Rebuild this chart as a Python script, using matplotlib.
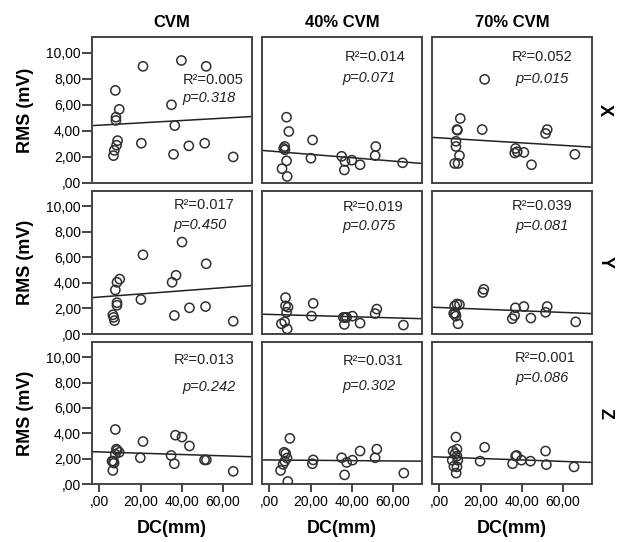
import matplotlib
matplotlib.use('Agg')
import matplotlib.pyplot as plt

# ========== DATA ==========
COLUMNS = ["CVM", "40% CVM", "70% CVM"]
ROWS = ["X", "Y", "Z"]

# X direction
dc_cvm_x = [7.8, 21.2, 39.8, 51.8, 35.0, 9.7, 8.1, 8.1, 36.6, 8.9, 8.4, 7.3, 6.9, 20.4, 36.0, 43.4, 51.1, 64.9]
rms_cvm_x = [7.1, 8.95, 9.4, 8.95, 6.0, 5.65, 5.05, 4.8, 4.4, 3.25, 2.9, 2.5, 2.1, 3.05, 2.2, 2.85, 3.05, 2.0]
dc_40_x = [8.4, 9.5, 7.5, 7.6, 7.0, 8.4, 6.2, 8.7, 21.0, 20.2, 35.1, 36.7, 36.4, 40.0, 44.0, 51.6, 51.3, 64.6]
rms_40_x = [5.05, 3.95, 2.8, 2.55, 2.65, 1.7, 1.1, 0.5, 3.3, 1.9, 2.05, 1.65, 1.0, 1.75, 1.4, 2.8, 2.1, 1.55]
dc_70_x = [22.0, 10.2, 8.6, 8.8, 20.8, 8.1, 8.1, 9.8, 7.5, 9.1, 52.3, 51.5, 37.0, 37.8, 36.6, 41.0, 44.7, 65.7]
rms_70_x = [7.95, 4.95, 4.1, 4.05, 4.1, 3.2, 2.8, 2.1, 1.5, 1.5, 4.1, 3.8, 2.65, 2.4, 2.3, 2.35, 1.4, 2.2]

# Y direction
dc_cvm_y = [21.2, 40.1, 51.8, 37.2, 35.3, 9.9, 8.6, 7.8, 8.6, 8.6, 20.2, 6.6, 7.0, 7.4, 36.4, 43.7, 51.5, 64.9]
rms_cvm_y = [6.2, 7.2, 5.5, 4.6, 4.05, 4.3, 4.05, 3.45, 2.45, 2.25, 2.7, 1.5, 1.3, 1.05, 1.45, 2.05, 2.15, 1.0]
dc_40_y = [7.9, 9.1, 7.9, 21.3, 20.5, 52.1, 51.3, 36.7, 40.3, 8.4, 5.9, 7.5, 8.7, 35.9, 37.5, 36.4, 44.0, 65.0]
rms_40_y = [2.85, 2.1, 2.2, 2.4, 1.4, 1.95, 1.6, 1.3, 1.4, 1.7, 0.8, 0.95, 0.4, 1.3, 1.3, 0.75, 0.85, 0.7]
dc_70_y = [21.6, 21.1, 8.6, 9.8, 7.5, 7.8, 36.9, 41.0, 36.5, 44.4, 52.3, 51.5, 66.1, 7.0, 8.1, 9.1, 35.4]
rms_70_y = [3.5, 3.25, 2.35, 2.3, 2.2, 1.6, 2.05, 2.15, 1.45, 1.25, 2.15, 1.7, 0.95, 1.6, 1.4, 0.8, 1.2]

# Z direction
dc_cvm_z = [7.8, 21.2, 36.9, 40.1, 43.7, 8.3, 8.7, 9.7, 7.8, 6.2, 6.9, 7.2, 6.6, 19.9, 34.8, 36.4, 51.0, 51.9, 64.9]
rms_cvm_z = [4.3, 3.35, 3.85, 3.7, 3.0, 2.75, 2.65, 2.5, 2.35, 1.8, 1.8, 1.65, 1.07, 2.07, 2.25, 1.6, 1.9, 1.9, 1.0]
dc_40_z = [10.0, 7.2, 8.0, 8.6, 7.5, 6.7, 5.5, 9.0, 21.3, 20.9, 35.1, 37.5, 36.5, 40.3, 44.0, 52.1, 51.3, 65.2]
rms_40_z = [3.6, 2.5, 2.4, 2.05, 1.8, 1.55, 1.07, 0.2, 1.9, 1.6, 2.07, 1.7, 0.72, 1.88, 2.6, 2.75, 2.07, 0.86]
dc_70_z = [8.1, 8.6, 6.7, 7.7, 8.6, 6.3, 9.0, 7.1, 8.6, 8.2, 22.0, 19.8, 35.5, 37.0, 37.5, 39.8, 44.2, 51.5, 51.9, 65.3]
rms_70_z = [3.7, 2.75, 2.6, 2.4, 2.2, 1.88, 1.88, 1.4, 1.35, 0.86, 2.9, 1.8, 1.6, 2.2, 2.25, 1.88, 1.8, 2.6, 1.53, 1.35]

# fit line value at left / right edge of the x range, rows X,Y,Z x columns
fit_left = [[4.4, 2.5, 3.5], [2.85, 1.55, 2.1], [2.55, 1.9, 2.15]]
fit_right = [[5.1, 1.5, 2.75], [3.8, 1.2, 1.6], [2.15, 1.8, 1.7]]

r2_values = [["0.005", "0.014", "0.052"], ["0.017", "0.019", "0.039"], ["0.013", "0.031", "0.001"]]
p_values = [["0.318", "0.071", "0.015"], ["0.450", "0.075", "0.081"], ["0.242", "0.302", "0.086"]]

x_ticks = [0, 20, 40, 60]
x_tick_labels = [",00", "20,00", "40,00", "60,00"]
y_ticks = [0, 2, 4, 6, 8, 10]
y_tick_labels = [",00", "2,00", "4,00", "6,00", "8,00", "10,00"]

# ========== LAYOUT ==========
W, H = 619, 542
X_RANGE = (-3.5, 74.0)
Y_RANGE = (0, 11.2)
col_left = [92, 262, 432]
col_width = 160
row_top = [37, 191, 342]
row_bottom = [183, 334, 484]

# text anchors in axes fraction: (x_r2, y_r2, x_p, y_p)
text_pos = [
    [(0.565, 0.705, 0.565, 0.58), (0.52, 0.865, 0.505, 0.72), (0.50, 0.865, 0.52, 0.71)],
    [(0.51, 0.90, 0.51, 0.765), (0.505, 0.89, 0.50, 0.755), (0.50, 0.895, 0.52, 0.755)],
    [(0.51, 0.87, 0.565, 0.68), (0.505, 0.865, 0.50, 0.69), (0.52, 0.89, 0.52, 0.745)],
]

plt.rcParams['font.family'] = ['Liberation Sans', 'DejaVu Sans']

grid_dc = [[dc_cvm_x, dc_40_x, dc_70_x], [dc_cvm_y, dc_40_y, dc_70_y], [dc_cvm_z, dc_40_z, dc_70_z]]
grid_rms = [[rms_cvm_x, rms_40_x, rms_70_x], [rms_cvm_y, rms_40_y, rms_70_y], [rms_cvm_z, rms_40_z, rms_70_z]]

fig = plt.figure(figsize=(W / 100, H / 100), dpi=100)
fig.patch.set_facecolor('white')

for r in range(3):
    for c in range(3):
        left = col_left[c] / W
        bottom = 1 - row_bottom[r] / H
        height = (row_bottom[r] - row_top[r]) / H
        ax = fig.add_axes([left, bottom, col_width / W, height])
        ax.scatter(grid_dc[r][c], grid_rms[r][c], s=44, facecolors='none',
                   edgecolors='#303030', linewidths=1.1, zorder=3)
        ax.plot(X_RANGE, [fit_left[r][c], fit_right[r][c]], color='#222222', lw=1.1, zorder=2)
        ax.set_xlim(*X_RANGE)
        ax.set_ylim(*Y_RANGE)
        for s in ax.spines.values():
            s.set_color('#444444')
            s.set_linewidth(1.4)

        if c == 0:
            ax.set_yticks(y_ticks)
            ax.set_yticklabels(y_tick_labels, fontsize=10)
            ax.tick_params(axis='y', length=7, width=1.4, color='#444444', pad=1)
            ax.set_ylabel("RMS (mV)", fontsize=13, weight='bold', labelpad=9)
        else:
            ax.set_yticks([])
        if r == 2:
            ax.set_xticks(x_ticks)
            ax.set_xticklabels(x_tick_labels, fontsize=10)
            ax.tick_params(axis='x', length=6, width=1.4, color='#444444', pad=2)
            ax.set_xlabel("DC(mm)", fontsize=13, weight='bold', labelpad=8)
        else:
            ax.set_xticks([])

        xr, yr, xp, yp = text_pos[r][c]
        ax.text(xr, yr, f"R\u00b2={r2_values[r][c]}", transform=ax.transAxes,
                fontsize=10.5, ha='left', va='center', color='#222222')
        ax.text(xp, yp, f"p={p_values[r][c]}", transform=ax.transAxes,
                fontsize=10.5, ha='left', va='center', style='italic', color='#222222')

        if r == 0:
            ax.set_title(COLUMNS[c], fontsize=12, weight='bold', pad=7)
        if c == 2:
            ax.text(1.08, 0.5, ROWS[r], transform=ax.transAxes, rotation=-90,
                    fontsize=13, weight='bold', ha='center', va='center')

fig.savefig("out.png", dpi=100, facecolor='white')
